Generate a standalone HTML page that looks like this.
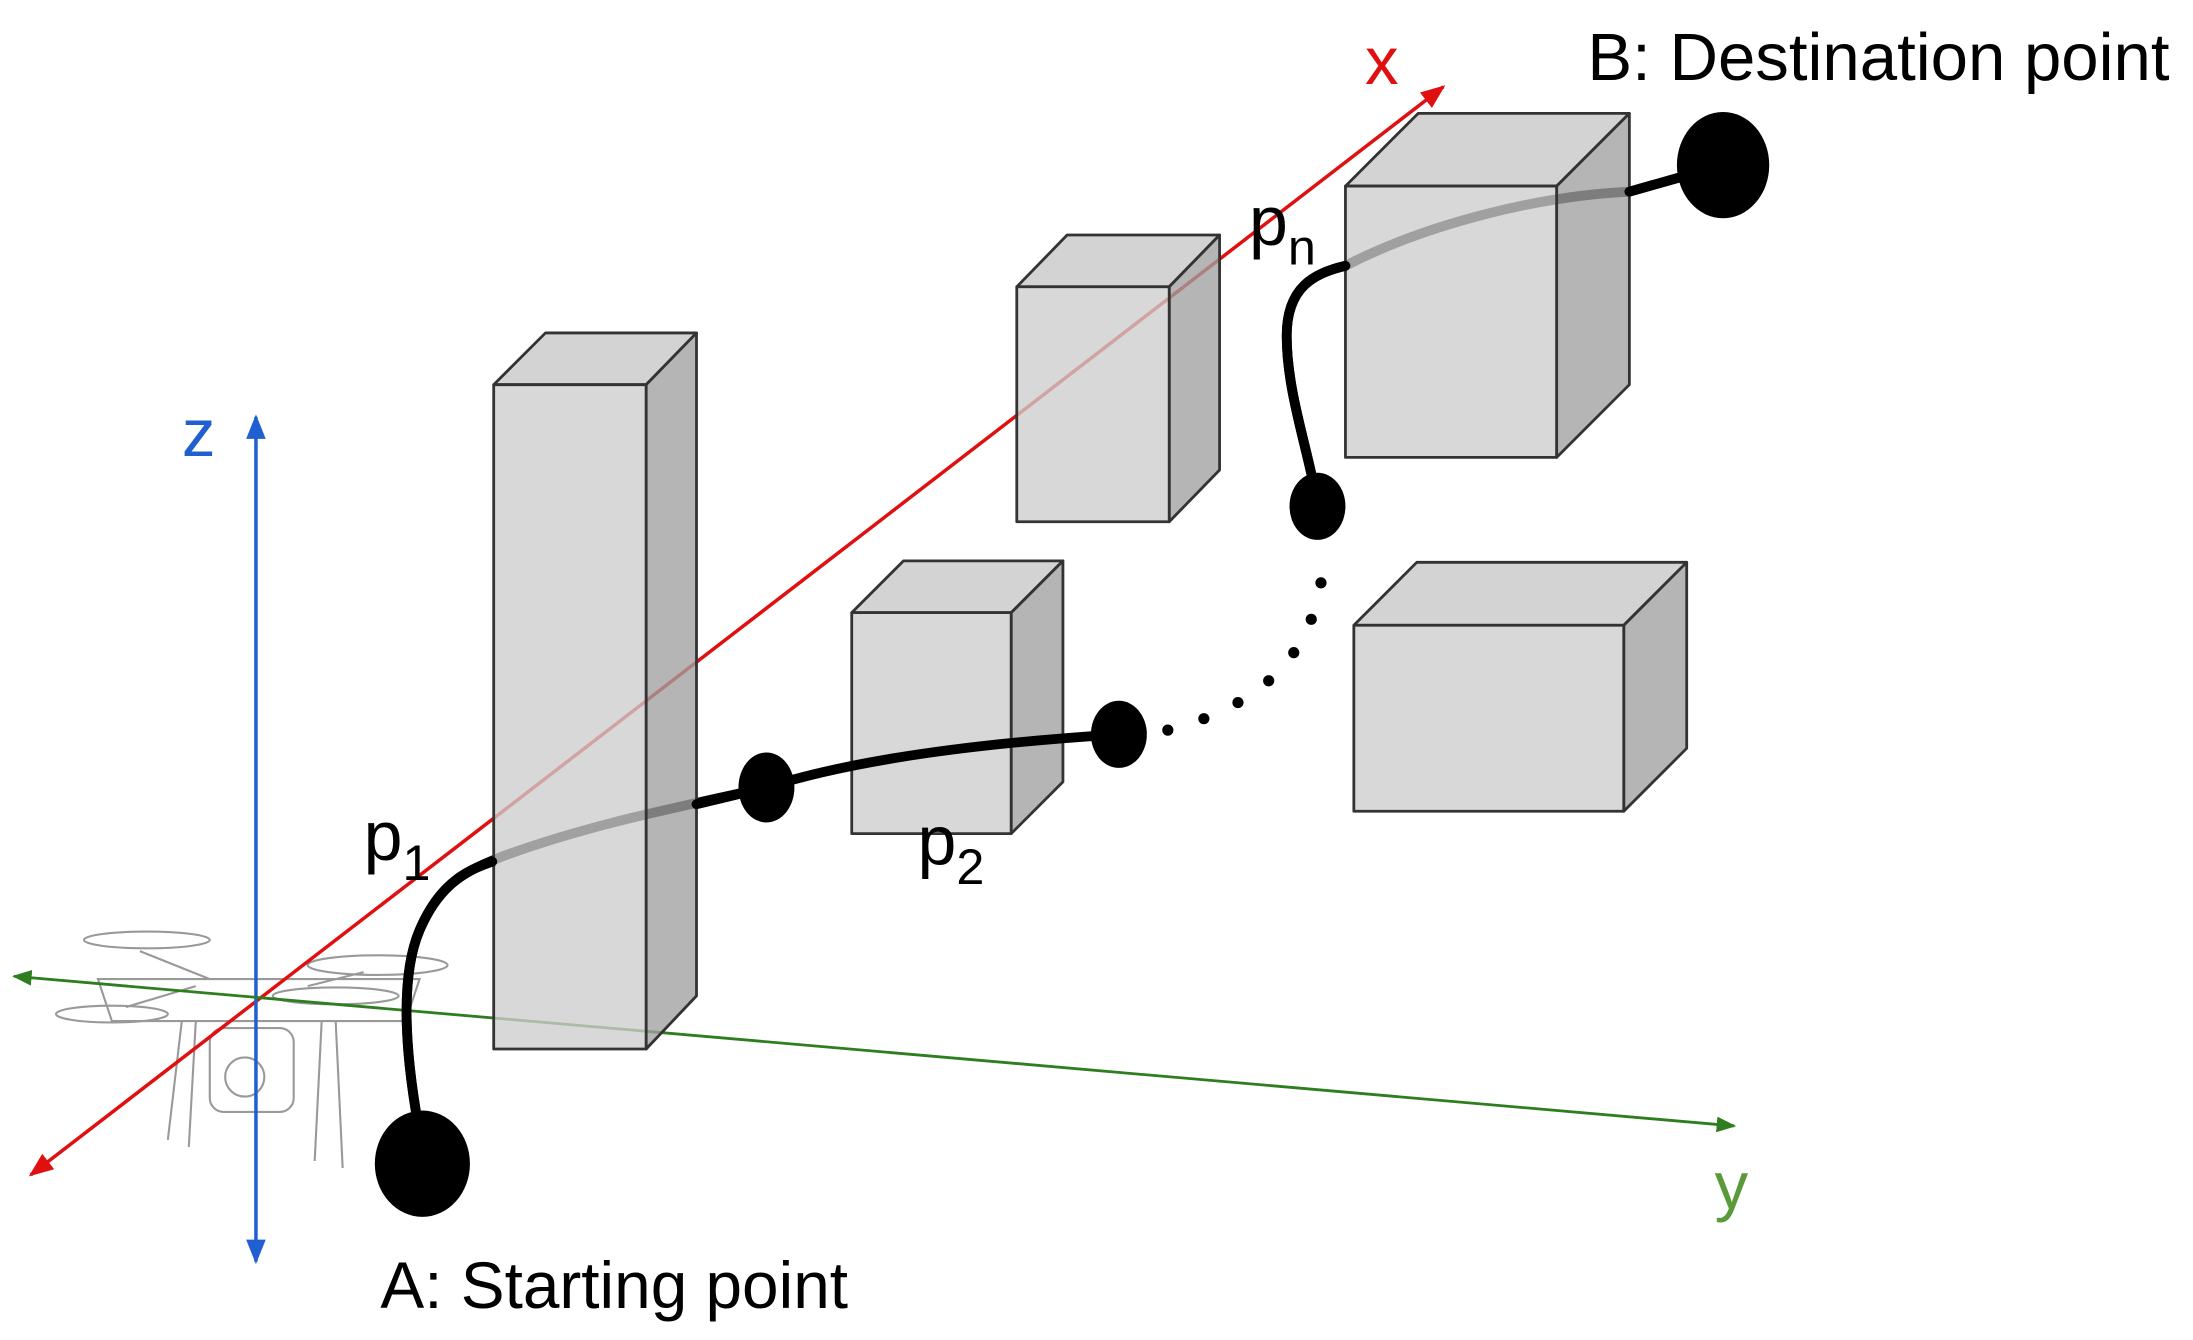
<!DOCTYPE html>
<html><head><meta charset="utf-8"><style>
html,body{margin:0;padding:0;background:#fff;}
svg{display:block;}
text{font-family:"Liberation Sans",sans-serif;}
</style></head><body>
<svg width="2193" height="1340" viewBox="0 0 1568 958" xmlns="http://www.w3.org/2000/svg">
<defs>
<marker id="ar" viewBox="0 0 10 10" refX="9" refY="5" markerWidth="7" markerHeight="7" orient="auto-start-reverse"><path d="M0,1 L10,5 L0,9 z" fill="#e01010"/></marker>
<marker id="ab" viewBox="0 0 10 10" refX="9" refY="5" markerWidth="7" markerHeight="7" orient="auto-start-reverse"><path d="M0,1 L10,5 L0,9 z" fill="#1f5fd0"/></marker>
<marker id="ag" viewBox="0 0 10 10" refX="9" refY="5" markerWidth="7" markerHeight="7" orient="auto-start-reverse"><path d="M0,1 L10,5 L0,9 z" fill="#2e7d1e"/></marker>
</defs>
<g stroke="#999" stroke-width="1.5" fill="none">
<ellipse cx="105" cy="672" rx="45" ry="6"/><ellipse cx="270" cy="690" rx="50" ry="7"/>
<ellipse cx="80" cy="725" rx="40" ry="6"/><ellipse cx="240" cy="712" rx="45" ry="6"/>
<path d="M70,700 L300,700 L290,730 L80,730 z"/>
<path d="M130,730 L120,815 M140,730 L135,820 M230,730 L225,830 M240,730 L245,835"/>
<rect x="150" y="735" width="60" height="60" rx="10"/>
<circle cx="175" cy="770" r="14"/>
<path d="M100,680 L150,700 M260,695 L220,705 M90,720 L140,705"/>
</g>
<line x1="22" y1="840" x2="1032" y2="62" stroke="#e01010" stroke-width="2.5" marker-start="url(#ar)" marker-end="url(#ar)"/>
<line x1="183" y1="298" x2="183" y2="902" stroke="#1f5fd0" stroke-width="2.5" marker-start="url(#ab)" marker-end="url(#ab)"/>
<line x1="10" y1="698" x2="1240" y2="805" stroke="#2e7d1e" stroke-width="2" marker-start="url(#ag)" marker-end="url(#ag)"/>
<text x="976" y="60" font-size="48" fill="#e01010">x</text>
<text x="130" y="326" font-size="48" fill="#1f5fd0">z</text>
<text x="1226" y="864" font-size="48" fill="#5a9a3a">y</text>
<g fill="none" stroke="#000" stroke-width="7" stroke-linecap="round">
<path d="M302,820 C290,760 285,700 300,665 C315,630 335,622 360,612 C420,590 480,578 548,563"/>
<path d="M942,360 C935,320 920,280 920,240 C920,205 940,195 962,190 C1020,160 1100,140 1165,137 L1232,118"/>
</g>
<g stroke="#333" stroke-width="2" stroke-linejoin="round" fill-opacity="0.78">
<polygon points="353,275 390,238 498,238 462,275" fill="#c6c6c6"/>
<polygon points="462,275 498,238 498,712 462,750" fill="#a0a0a0"/>
<rect x="353" y="275" width="109" height="475" fill="#cdcdcd"/>
<polygon points="727,205 763,168 872,168 836,205" fill="#c6c6c6"/>
<polygon points="836,205 872,168 872,336 836,373" fill="#a0a0a0"/>
<rect x="727" y="205" width="109" height="168" fill="#cdcdcd"/>
<polygon points="609,438 646,401 760,401 723,438" fill="#c6c6c6"/>
<polygon points="723,438 760,401 760,559 723,596" fill="#a0a0a0"/>
<rect x="609" y="438" width="114" height="158" fill="#cdcdcd"/>
<polygon points="962,133 1014,81 1165,81 1113,133" fill="#c6c6c6"/>
<polygon points="1113,133 1165,81 1165,275 1113,327" fill="#a0a0a0"/>
<rect x="962" y="133" width="151" height="194" fill="#cdcdcd"/>
<polygon points="968,447 1013,402 1206,402 1161,447" fill="#c6c6c6"/>
<polygon points="1161,447 1206,402 1206,535 1161,580" fill="#a0a0a0"/>
<rect x="968" y="447" width="193" height="133" fill="#cdcdcd"/>
</g>
<g fill="none" stroke="#000" stroke-width="7" stroke-linecap="round">
<path d="M302,820 C290,760 285,700 300,665 C315,630 335,622 352,616"/>
<path d="M498,575 L548,563"/>
<path d="M548,563 C620,540 720,530 800,525"/>
<path d="M1165,137 L1232,118"/>
<path d="M942,360 C935,320 920,280 920,240 C920,205 940,195 962,190"/>
</g>
<path d="M835,522 C900,505 940,470 946,405" fill="none" stroke="#000" stroke-width="8" stroke-linecap="round" stroke-dasharray="0 27"/>
<ellipse cx="302" cy="832" rx="34" ry="38" fill="#000"/>
<ellipse cx="548" cy="563" rx="20" ry="25" fill="#000"/>
<ellipse cx="800" cy="525" rx="20" ry="24" fill="#000"/>
<ellipse cx="942" cy="362" rx="20" ry="24" fill="#000"/>
<ellipse cx="1232" cy="118" rx="33" ry="38" fill="#000"/>
<text x="260" y="615" font-size="50" fill="#000">p<tspan font-size="36" dy="14">1</tspan></text>
<text x="656" y="618" font-size="50" fill="#000">p<tspan font-size="36" dy="14">2</tspan></text>
<text x="893" y="175" font-size="50" fill="#000">p<tspan font-size="36" dy="14">n</tspan></text>
<text x="272" y="935" font-size="47" fill="#000">A: Starting point</text>
<text x="1135" y="57" font-size="48" fill="#000">B: Destination point</text>
</svg>
</body></html>
